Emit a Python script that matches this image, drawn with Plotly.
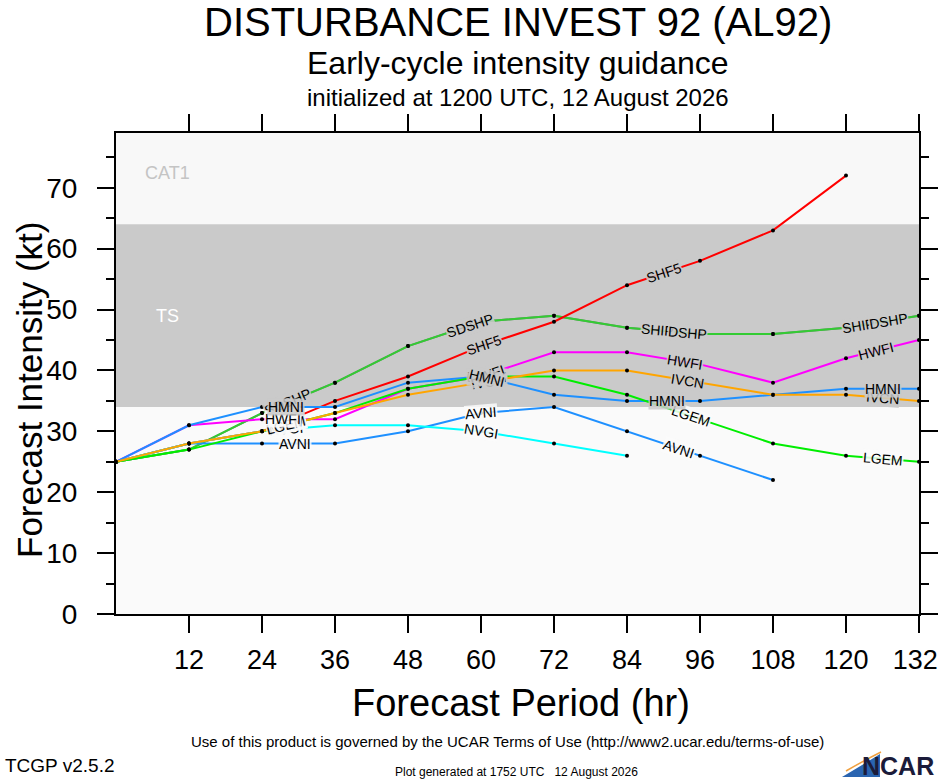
import math
import numpy as np
import plotly.graph_objects as go

# Forecast hours and model intensities (kt)
hours = [0, 12, 24, 36, 48, 60, 72, 84, 96, 108, 120, 132]

shf5 = [25, 28, 30, 35, 39, 44, 48, 54, 58, 63, 72, None]
ship = [25, 27, 33, 38, 44, 48, 49, 47, 46, 46, 47, 49]
dshp = [25, 27, 33, 38, 44, 48, 49, 47, 46, 46, 47, 49]
avni = [25, 28, 28, 28, 30, 33, 34, 30, 26, 22, None, None]
nvgi = [25, 28, 30, 31, 31, 30, 28, 26, None, None, None, None]
hwfi = [25, 31, 32, 32, 37, 39, 43, 43, 41, 38, 42, 45]
hmni = [25, 31, 34, 34, 38, 39, 36, 35, 35, 36, 37, 37]
lgem = [25, 27, 30, 33, 37, 39, 39, 36, 32, 28, 26, 25]
ivcn = [25, 28, 30, 33, 36, 38, 40, 40, 38, 36, 36, 35]

xticks = [12, 24, 36, 48, 60, 72, 84, 96, 108, 120, 132]
xtick_text = ["12", "24", "36", "48", "60", "72", "84", "96", "108", "120", "132\u00a0"]
yticks = [0, 10, 20, 30, 40, 50, 60, 70]

# intensity categories (kt)
ts_lo, ts_hi = 34, 64
y_max = 79

# name, values, colour, hours where the name is written on the line
models = [
    ("SHIP", ship, "#7a7a7a", [27, 57, 89, 122]),
    ("DSHP", dshp, "#33cc33", [29, 59, 94, 127]),
    ("SHF5", shf5, "#ff0000", [28, 60.5, 90]),
    ("AVNI", avni, "#1e90ff", [29.5, 60, 92.5]),
    ("NVGI", nvgi, "#00ffff", [28, 60]),
    ("HWFI", hwfi, "#ff00ff", [27.5, 61, 93.5, 125]),
    ("HMNI", hmni, "#1e90ff", [28, 61, 90.5, 126]),
    ("LGEM", lgem, "#00ee00", [28, 61, 94.5, 126]),
    ("IVCN", ivcn, "#ffa500", [28.5, 61, 94, 126]),
]
label_order = ["SHIP", "DSHP", "SHF5", "AVNI", "NVGI", "IVCN", "LGEM", "HWFI", "HMNI"]

W, H = 940, 780
L, T = 116, 133
pw, ph = 803, 481
R, B = W - L - pw, H - T - ph
px_h = pw / 132.0
px_k = ph / float(y_max)


def px(X):
    return (X - L) / pw


def py(Y):
    return (T + ph - Y) / ph


band_light = "#f8f8f8"
band_ts = "#cacaca"
band_low = "#fafafa"
font = "Liberation Sans, Arial, sans-serif"

fig = go.Figure()

for name, vals, col, lab_hrs in models:
    fig.add_trace(go.Scatter(
        x=hours, y=vals, mode="lines+markers", name=name,
        line=dict(color=col, width=2),
        marker=dict(color="black", size=4),
        connectgaps=False, showlegend=False))

annotations = []
by_name = {m[0]: m for m in models}
for key in label_order:
    name, vals, col, lab_hrs = by_name[key]
    hh = [h for h, v in zip(hours, vals) if v is not None]
    vv = [v for v in vals if v is not None]
    for lh in lab_hrs:
        yv = float(np.interp(lh, hh, vv))
        i = min(int(lh // 12), len(hh) - 2)
        dk = vv[i + 1] - vv[i]
        ang = -math.degrees(math.atan2(dk * px_k, 12 * px_h))
        if ts_lo <= yv <= ts_hi:
            bg = "rgba(202,202,202,0.85)"
        else:
            bg = "rgba(250,250,250,0.85)"
        annotations.append(dict(
            x=lh, y=yv, xref="x", yref="y", text=name, showarrow=False,
            textangle=ang, bgcolor=bg, borderpad=0,
            font=dict(family=font, size=14, color="black")))

# category labels
annotations.append(dict(x=8.5, y=72.5, xref="x", yref="y", text="CAT1", showarrow=False,
                        font=dict(family=font, size=18, color="#c4c4c4")))
annotations.append(dict(x=8.5, y=49, xref="x", yref="y", text="TS", showarrow=False,
                        font=dict(family=font, size=18, color="white")))

# titles and footer
annotations += [
    dict(x=0.5, y=py(22), xref="paper", yref="paper", text="DISTURBANCE INVEST 92 (AL92)",
         showarrow=False, yanchor="middle", font=dict(family=font, size=40, color="black")),
    dict(x=0.5, y=py(63), xref="paper", yref="paper", text="Early-cycle intensity guidance",
         showarrow=False, yanchor="middle", font=dict(family=font, size=32, color="black")),
    dict(x=0.5, y=py(97), xref="paper", yref="paper", text="initialized at 1200 UTC, 12 August 2026",
         showarrow=False, yanchor="middle", font=dict(family=font, size=24, color="black")),
    dict(x=px(521), y=py(703), xref="paper", yref="paper", text="Forecast Period (hr)",
         showarrow=False, yanchor="middle", font=dict(family=font, size=38, color="black")),
    dict(x=px(29), y=py(390), xref="paper", yref="paper", text="Forecast Intensity (kt)",
         showarrow=False, textangle=-90, xanchor="center", yanchor="middle",
         font=dict(family=font, size=35, color="black")),
    dict(x=px(507), y=py(741), xref="paper", yref="paper",
         text="Use of this product is governed by the UCAR Terms of Use (http://www2.ucar.edu/terms-of-use)",
         showarrow=False, yanchor="middle", font=dict(family=font, size=15, color="black")),
    dict(x=px(3), y=py(765), xref="paper", yref="paper", text="TCGP v2.5.2", xanchor="left",
         showarrow=False, yanchor="middle", font=dict(family=font, size=19, color="black")),
    dict(x=px(516), y=py(772), xref="paper", yref="paper",
         text="Plot generated at 1752 UTC   12 August 2026",
         showarrow=False, yanchor="middle", font=dict(family=font, size=12, color="black")),
    dict(x=px(936), y=py(766), xref="paper", yref="paper", text="<b>NCAR</b>", xanchor="right",
         showarrow=False, yanchor="middle", font=dict(family=font, size=25, color="#1b1b3a")),
]

shapes = [
    dict(type="rect", xref="x", yref="y", x0=0, x1=132, y0=ts_hi, y1=y_max,
         fillcolor=band_light, line_width=0, layer="below"),
    dict(type="rect", xref="x", yref="y", x0=0, x1=132, y0=ts_lo, y1=ts_hi,
         fillcolor=band_ts, line_width=0, layer="below"),
    # NCAR swoosh
    dict(type="path", xref="paper", yref="paper",
         path=(f"M {px(842)},{py(777)} Q {px(864)},{py(764)} {px(880)},{py(754)} "
               f"L {px(880)},{py(777)} Z"),
         fillcolor="#2a64b0", line_width=0),
    dict(type="path", xref="paper", yref="paper",
         path=f"M {px(846)},{py(771)} Q {px(865)},{py(760)} {px(881)},{py(752)}",
         line=dict(color="#f0a040", width=1.5)),
]

fig.update_layout(
    width=W, height=H,
    margin=dict(l=L, r=R, t=T, b=B, autoexpand=False),
    paper_bgcolor="white", plot_bgcolor=band_low,
    annotations=annotations, shapes=shapes,
    font=dict(family=font, color="black"),
)

fig.update_xaxes(
    range=[0, 132], tickvals=xticks, ticktext=xtick_text, ticks="outside", ticklen=17,
    tickwidth=1.5, tickcolor="black", showline=True, linecolor="black", linewidth=2,
    mirror="allticks", showgrid=False, zeroline=False, tickfont=dict(family=font, size=27),
    ticklabelstandoff=4, ticklabeloverflow="allow")

fig.update_yaxes(
    range=[0, y_max], tickvals=yticks, ticks="outside", ticklen=17, tickwidth=2,
    tickcolor="black", showline=True, linecolor="black", linewidth=2, mirror="allticks",
    showgrid=False, zeroline=False, tickfont=dict(family=font, size=28),
    ticklabelstandoff=14,
    minor=dict(tickvals=[5, 15, 25, 35, 45, 55, 65, 75], ticks="outside", ticklen=8,
               tickcolor="black", tickwidth=1.5, showgrid=False))

# drop the default page margin so the 940x780 figure fills the window
fig.write_html("out.html", config={"displayModeBar": False},
               post_script="document.body.style.margin = '0';")
